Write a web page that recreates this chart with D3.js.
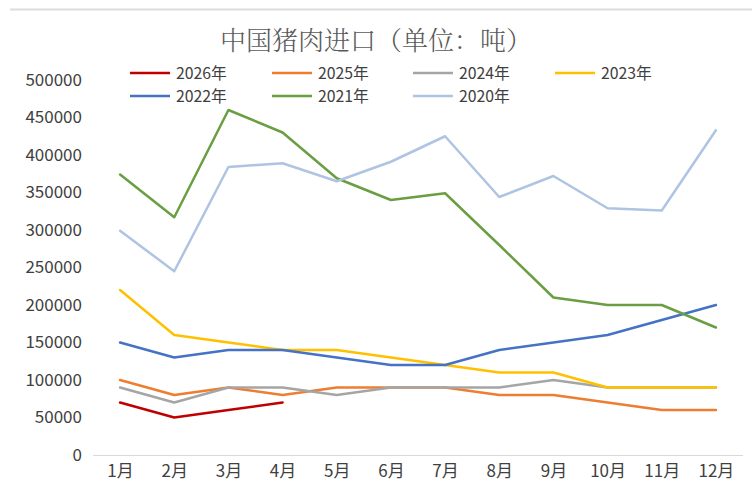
<!DOCTYPE html>
<html><head><meta charset="utf-8">
<script src="https://cdn.jsdelivr.net/npm/d3@7"></script>
<style>
html,body{margin:0;padding:0;background:#fff;}
svg{display:block;}
</style></head>
<body>
<svg id="c" width="752" height="486"></svg>
<script>
const months = ["1月","2月","3月","4月","5月","6月","7月","8月","9月","10月","11月","12月"];
const yTicks = [0,50000,100000,150000,200000,250000,300000,350000,400000,450000,500000];
const seriesNames = ["2026年","2025年","2024年","2023年","2022年","2021年","2020年"];
const seriesColors = ["#C00000","#ED7D31","#A5A5A5","#FFC000","#4472C4","#6A9E42","#AFC4E2"];
const v2026 = [70000,50000,60000,70000];
const v2025 = [100000,80000,90000,80000,90000,90000,90000,80000,80000,70000,60000,60000];
const v2024 = [90000,70000,90000,90000,80000,90000,90000,90000,100000,90000,90000,90000];
const v2023 = [220000,160000,150000,140000,140000,130000,120000,110000,110000,90000,90000,90000];
const v2022 = [150000,130000,140000,140000,130000,120000,120000,140000,150000,160000,180000,200000];
const v2021 = [374000,317000,460000,430000,369000,340000,349000,280000,210000,200000,200000,170000];
const v2020 = [299000,245000,384000,389000,365000,391000,425000,344000,372000,329000,326000,433000];
const seriesValues = [v2026,v2025,v2024,v2023,v2022,v2021,v2020];

const svg = d3.select("#c");
const font = "'Noto Sans CJK SC','Noto Sans',sans-serif";

// top border line
svg.append("line").attr("x1",10).attr("x2",752).attr("y1",9.5).attr("y2",9.5)
  .attr("stroke","#dcdcdc").attr("stroke-width",2);

const x = d3.scalePoint().domain(months).range([93,743]).padding(0.5);
const y = d3.scaleLinear().domain([0,500000]).range([455,80]);

// title
svg.append("text").attr("x",376).attr("y",50).attr("text-anchor","middle")
  .attr("font-family","'Noto Serif CJK SC','Noto Sans CJK SC',serif").attr("font-size",26)
  .attr("font-weight",300)
  .attr("fill","#595959").text("中国猪肉进口（单位：吨）");

// y axis labels
const yAxis = d3.axisLeft(y).tickValues(yTicks).tickSize(0).tickPadding(0).tickFormat(d3.format("d"));
const gy = svg.append("g").attr("transform","translate(82,0)").call(yAxis);
gy.select(".domain").remove();
gy.selectAll("text").attr("font-family",font).attr("font-size",17).attr("fill","#404040");

// x axis
const xAxis = d3.axisBottom(x).tickSize(0).tickPadding(10);
const gx = svg.append("g").attr("transform","translate(0,455)").call(xAxis);
gx.select(".domain").remove();
gx.selectAll("text").attr("font-family",font).attr("font-size",17).attr("fill","#404040");
svg.append("line").attr("x1",93).attr("x2",743).attr("y1",455.5).attr("y2",455.5)
  .attr("stroke","#d9d9d9").attr("stroke-width",1);

// lines
const line = d3.line().x((d,i)=>x(months[i])).y(d=>y(d));
seriesValues.forEach((vals,k)=>{
  svg.append("path").datum(vals).attr("d",line).attr("fill","none")
    .attr("stroke",seriesColors[k]).attr("stroke-width",2.5)
    .attr("stroke-linejoin","round").attr("stroke-linecap","round");
});

// legend
const legX = [130,272,413,555];
const legY = [73,96];
seriesNames.forEach((n,k)=>{
  const col = k<4 ? k : k-4;
  const row = k<4 ? 0 : 1;
  const lx = legX[col], ly = legY[row];
  svg.append("line").attr("x1",lx).attr("x2",lx+40).attr("y1",ly).attr("y2",ly)
    .attr("stroke",seriesColors[k]).attr("stroke-width",2.5);
  svg.append("text").attr("x",lx+46).attr("y",ly).attr("dy","0.35em")
    .attr("font-family",font).attr("font-size",15.8).attr("fill","#404040").text(n);
});
</script>
</body></html>
